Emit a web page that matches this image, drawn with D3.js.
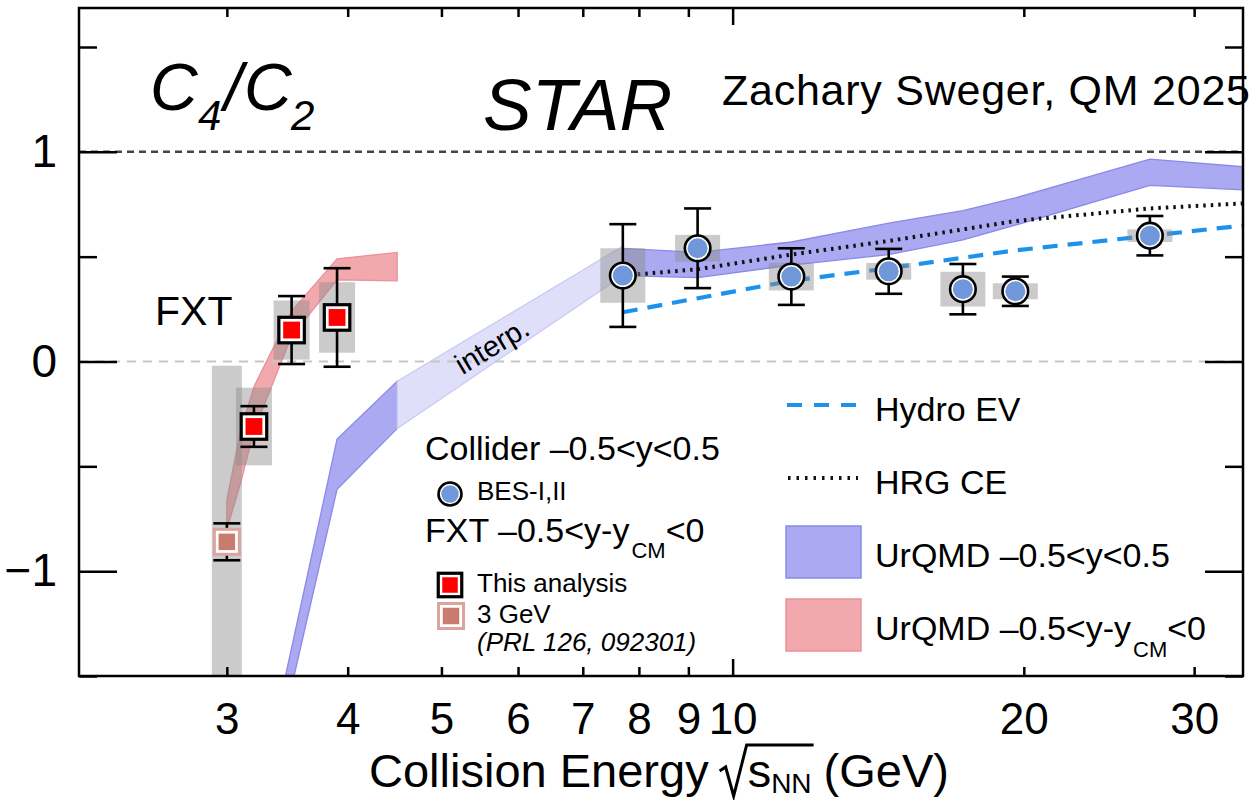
<!DOCTYPE html>
<html><head><meta charset="utf-8">
<script src="https://cdn.jsdelivr.net/npm/d3@7"></script>
<style>
body{margin:0;background:#fff}
svg{display:block}
text{font-family:"Liberation Sans",Arial,Helvetica,sans-serif;fill:#000}
</style>
</head><body>
<svg id="c" width="1254" height="800"></svg>
<script>
// ---------------- data ----------------
const besEnergy = [7.7, 9.2, 11.5, 14.5, 17.3, 19.6, 27];
const besValue  = [0.41, 0.54, 0.405, 0.43, 0.345, 0.335, 0.60];
const besStat   = [0.245, 0.19, 0.135, 0.107, 0.12, 0.07, 0.094];
const besSys    = [0.13, 0.064, 0.066, 0.04, 0.083, 0.038, 0.03];

const fxtEnergy = [3.2, 3.5, 3.9];
const fxtValue  = [-0.31, 0.15, 0.21];
const fxtStat   = [0.097, 0.162, 0.235];
const fxtSys    = [0.185, 0.141, 0.168];

const gev3Energy = [3.0];
const gev3Value  = [-0.86];
const gev3Stat   = [0.088];
const gev3Sys    = [0.84];

const hydroEnergy = [7.7, 11.5, 14.5, 19.6, 27, 39];
const hydroValue  = [0.235, 0.385, 0.445, 0.53, 0.60, 0.68];

const hrgEnergy = [7.7, 9.2, 11.5, 14.5, 17.3, 19.6, 27, 39];
const hrgValue  = [0.41, 0.44, 0.51, 0.575, 0.63, 0.67, 0.73, 0.77];

const urqmdLowEnergy = [3.2, 3.9, 4.5];
const urqmdLowLo     = [-2.33, -0.61, -0.32];
const urqmdLowHi     = [-2.19, -0.37, -0.094];

const urqmdInterpEnergy = [4.5, 7.7];
const urqmdInterpLo     = [-0.32, 0.41];
const urqmdInterpHi     = [-0.094, 0.55];

const urqmdBesEnergy = [7.7, 9.2, 11.5, 14.5, 17.3, 19.6, 27, 39];
const urqmdBesLo     = [0.41, 0.40, 0.46, 0.51, 0.58, 0.65, 0.84, 0.805];
const urqmdBesHi     = [0.54, 0.52, 0.57, 0.66, 0.72, 0.78, 0.965, 0.905];

const urqmdFxtEnergy = [3.0, 3.1, 3.2, 3.5, 3.9, 4.5];
const urqmdFxtLo     = [-0.80, -0.58, -0.33, 0.12, 0.39, 0.385];
const urqmdFxtHi     = [-0.66, -0.33, -0.12, 0.24, 0.49, 0.52];

const refLineValues = [1, 0];
const xTicks = [3, 4, 5, 6, 7, 8, 9, 10, 20, 30];
const xMajorTicks = [10];
const yTicks = [-1.5, -1, -0.5, 0, 0.5, 1, 1.5];
const yMajorTicks = [-1, 0, 1];

// ---------------- layout ----------------
const svg = d3.select("#c");
const X0 = 79, X1 = 1243, Y0 = 8, Y1 = 676;
const x = d3.scaleLog().domain([2.11, 33.7]).range([X0, X1]);
const y = d3.scaleLinear().domain([-1.5, 1.686]).range([Y1, Y0]);

svg.append("defs").append("clipPath").attr("id", "clip")
  .append("rect").attr("x", X0).attr("y", Y0).attr("width", X1 - X0).attr("height", Y1 - Y0);
const plot = svg.append("g").attr("clip-path", "url(#clip)");

const zip3 = (e, lo, hi) => e.map((v, i) => ({e: v, lo: lo[i], hi: hi[i]}));
const zip2 = (e, v) => e.map((d, i) => ({e: d, v: v[i]}));
const area = d3.area().x(d => x(d.e)).y0(d => y(d.lo)).y1(d => y(d.hi));
const line = d3.line().x(d => x(d.e)).y(d => y(d.v));

// bands
const bands = [
  {data: zip3(urqmdFxtEnergy, urqmdFxtLo, urqmdFxtHi), fill: "#f2a9ad", stroke: "#e8939b"},
  {data: zip3(urqmdLowEnergy, urqmdLowLo, urqmdLowHi), fill: "#aaa9f1", stroke: "#8c8ae8"},
  {data: zip3(urqmdInterpEnergy, urqmdInterpLo, urqmdInterpHi), fill: "#dfdff9", stroke: "#cacaf3"},
  {data: zip3(urqmdBesEnergy, urqmdBesLo, urqmdBesHi), fill: "#aaa9f1", stroke: "#8c8ae8"}
];
plot.selectAll("path.band").data(bands).join("path").attr("class", "band")
  .attr("d", d => area(d.data)).attr("fill", d => d.fill)
  .attr("stroke", d => d.stroke).attr("stroke-width", 1.3);

// reference dashed lines
plot.selectAll("line.ref").data(refLineValues).join("line").attr("class", "ref")
  .attr("x1", X0).attr("x2", X1).attr("y1", d => y(d)).attr("y2", d => y(d))
  .attr("stroke", d => d === 0 ? "#c6c6c6" : "#444")
  .attr("stroke-width", d => d === 0 ? 2.2 : 2.5).attr("stroke-dasharray", d => d === 0 ? "9,7" : "7,5");

// model lines
plot.append("path").attr("d", line(zip2(hrgEnergy, hrgValue)))
  .attr("fill", "none").attr("stroke", "#111").attr("stroke-width", 4).attr("stroke-dasharray", "2.5,5");
plot.append("path").attr("d", line(zip2(hydroEnergy, hydroValue)))
  .attr("fill", "none").attr("stroke", "#1e92ea").attr("stroke-width", 4.2).attr("stroke-dasharray", "15,10");

// data helpers
function points(E, V, S, Y) { return E.map((e, i) => ({e, v: V[i], stat: S[i], sys: Y[i]})); }
const besPts = points(besEnergy, besValue, besStat, besSys);
const fxtPts = points(fxtEnergy, fxtValue, fxtStat, fxtSys);
const gevPts = points(gev3Energy, gev3Value, gev3Stat, gev3Sys);

function sysBoxes(pts, halfW) {
  plot.append("g").selectAll("rect").data(pts).join("rect")
    .attr("x", d => x(d.e) - halfW).attr("width", 2 * halfW)
    .attr("y", d => y(d.v + d.sys)).attr("height", d => y(d.v - d.sys) - y(d.v + d.sys))
    .attr("fill", "#8c8c8c").attr("fill-opacity", 0.45);
}
sysBoxes(gevPts, 15);
sysBoxes(fxtPts, 18);
sysBoxes(besPts, 22.5);

function errBars(pts) {
  const g = plot.append("g").attr("stroke", "#000").attr("stroke-width", 2.6);
  const gg = g.selectAll("g").data(pts).join("g");
  gg.append("line").attr("x1", d => x(d.e)).attr("x2", d => x(d.e))
    .attr("y1", d => y(d.v + d.stat)).attr("y2", d => y(d.v - d.stat));
  gg.append("line").attr("x1", d => x(d.e) - 13.5).attr("x2", d => x(d.e) + 13.5)
    .attr("y1", d => y(d.v + d.stat)).attr("y2", d => y(d.v + d.stat));
  gg.append("line").attr("x1", d => x(d.e) - 13.5).attr("x2", d => x(d.e) + 13.5)
    .attr("y1", d => y(d.v - d.stat)).attr("y2", d => y(d.v - d.stat));
}
errBars(gevPts); errBars(fxtPts); errBars(besPts);

// marker drawers
function circleMarker(g, cx, cy, r) {
  g.append("circle").attr("cx", cx).attr("cy", cy).attr("r", r).attr("fill", "#fff").attr("stroke", "#000").attr("stroke-width", 2.6);
  g.append("circle").attr("cx", cx).attr("cy", cy).attr("r", r - 2.8).attr("fill", "#6f97da");
}
function squareMarker(g, cx, cy, s, outer, inner, sw) {
  g.append("rect").attr("x", cx - s / 2).attr("y", cy - s / 2).attr("width", s).attr("height", s)
    .attr("fill", "#fff").attr("stroke", outer).attr("stroke-width", sw);
  const si = s * 0.66;
  g.append("rect").attr("x", cx - si / 2).attr("y", cy - si / 2).attr("width", si).attr("height", si).attr("fill", inner);
}
const mk = plot.append("g");
gevPts.forEach(d => squareMarker(mk, x(d.e), y(d.v), 25, "#dba49d", "#c97b70", 3));
fxtPts.forEach(d => squareMarker(mk, x(d.e), y(d.v), 25.5, "#000", "#ff0000", 3.2));
besPts.forEach(d => circleMarker(mk, x(d.e), y(d.v), 12.8));

// ---------------- axes ----------------
const axW = 2.5;
function styleAxis(g) {
  g.select(".domain").remove();
  g.selectAll(".tick line").attr("stroke", "#000").attr("stroke-width", axW);
}
const gB = svg.append("g").attr("transform", `translate(0,${Y1})`)
  .call(d3.axisBottom(x).tickValues(xTicks).tickSize(-9).tickSizeOuter(0).tickPadding(27).tickFormat(d3.format("d")));
styleAxis(gB);
gB.selectAll(".tick").filter(d => xMajorTicks.includes(d)).select("line").attr("y2", -17);
gB.selectAll(".tick text").attr("font-size", 44).attr("font-family", null).attr("fill", "#000");

const gT = svg.append("g").attr("transform", `translate(0,${Y0})`)
  .call(d3.axisTop(x).tickValues(xTicks).tickSize(-9).tickSizeOuter(0).tickFormat(""));
styleAxis(gT);
gT.selectAll(".tick").filter(d => xMajorTicks.includes(d)).select("line").attr("y2", 17);

const yFmt = d => yMajorTicks.includes(d) ? (d < 0 ? "\u2212" + Math.abs(d) : String(d)) : "";
const gL = svg.append("g").attr("transform", `translate(${X0},0)`)
  .call(d3.axisLeft(y).tickValues(yTicks).tickSize(-18).tickSizeOuter(0).tickPadding(22).tickFormat(yFmt));
styleAxis(gL);
gL.selectAll(".tick").filter(d => yMajorTicks.includes(d)).select("line").attr("x2", 38);
gL.selectAll(".tick text").attr("font-size", 46).attr("font-family", null).attr("fill", "#000");

const gR = svg.append("g").attr("transform", `translate(${X1},0)`)
  .call(d3.axisRight(y).tickValues(yTicks).tickSize(-18).tickSizeOuter(0).tickFormat(""));
styleAxis(gR);
gR.selectAll(".tick").filter(d => yMajorTicks.includes(d)).select("line").attr("x2", -38);

svg.append("rect").attr("x", X0).attr("y", Y0).attr("width", X1 - X0).attr("height", Y1 - Y0)
  .attr("fill", "none").attr("stroke", "#000").attr("stroke-width", axW);

// x axis title
(function () {
  const g = svg.append("g");
  const base = 787, fs = 47;
  const t1 = g.append("text").attr("font-size", fs).attr("y", base).text("Collision Energy");
  const w1 = t1.node().getComputedTextLength();
  const radW = 27;
  const t2 = g.append("text").attr("font-size", fs).attr("y", base).text("s");
  const w2 = t2.node().getComputedTextLength();
  const t3 = g.append("text").attr("font-size", 28).attr("y", base + 6).text("NN");
  const w3 = t3.node().getComputedTextLength();
  const t4 = g.append("text").attr("font-size", fs).attr("y", base).text("(GeV)");
  const w4 = t4.node().getComputedTextLength();
  const gap1 = 11, gap2 = 1, gap3 = 12;
  const total = w1 + gap1 + radW + gap2 + w2 + w3 + gap3 + w4;
  let cx = 659 - total / 2;
  t1.attr("x", cx); cx += w1 + gap1;
  const rx = cx; cx += radW + gap2;
  t2.attr("x", cx); cx += w2;
  t3.attr("x", cx); cx += w3;
  const overEnd = cx + 2; cx += gap3;
  t4.attr("x", cx);
  g.append("path")
    .attr("d", `M${rx},${base - 16} L${rx + 6},${base - 20} L${rx + 14},${base + 9} L${rx + radW},${base - 42} L${overEnd},${base - 42}`)
    .attr("fill", "none").attr("stroke", "#000").attr("stroke-width", 3).attr("stroke-linejoin", "miter");
})();

// ---------------- texts ----------------
const T = svg.append("g");
// C4/C2
const ct = T.append("text").attr("font-style", "italic");
ct.append("tspan").attr("x", 150).attr("y", 110).attr("font-size", 66).text("C");
ct.append("tspan").attr("x", 198).attr("y", 130).attr("font-size", 42).text("4");
ct.append("tspan").attr("x", 224).attr("y", 110).attr("font-size", 66).text("/");
ct.append("tspan").attr("x", 244).attr("y", 110).attr("font-size", 66).text("C");
ct.append("tspan").attr("x", 291).attr("y", 130).attr("font-size", 42).text("2");

T.append("text").attr("x", 483).attr("y", 130).attr("font-size", 73).attr("font-style", "italic").text("STAR");
T.append("text").attr("x", 722).attr("y", 105).attr("font-size", 43)
  .attr("textLength", 528).attr("lengthAdjust", "spacing").text("Zachary Sweger, QM 2025");
T.append("text").attr("x", 155).attr("y", 325).attr("font-size", 41).text("FXT");

// interp label on band
const ie = Math.sqrt(urqmdInterpEnergy[0] * urqmdInterpEnergy[1]);
T.append("text").attr("transform", `translate(${x(ie) - 13},${y((urqmdInterpLo[0] + urqmdInterpHi[1]) / 2) + 17}) rotate(-31)`)
  .attr("text-anchor", "middle").attr("font-size", 29).text("interp.");

// middle legend
T.append("text").attr("x", 425).attr("y", 460).attr("font-size", 34).text("Collider \u20130.5<y<0.5");
circleMarker(T, 450, 494, 11.5);
T.append("text").attr("x", 477).attr("y", 500).attr("font-size", 26).text("BES-I,II");
const fx = T.append("text").attr("x", 425).attr("y", 542).attr("font-size", 34);
fx.append("tspan").text("FXT \u20130.5<y-y");
fx.append("tspan").attr("font-size", 22).attr("dx", 2).attr("dy", 16).text("CM");
fx.append("tspan").attr("dy", -16).text("<0");
squareMarker(T, 450, 585, 23.5, "#000", "#ff0000", 3.2);
T.append("text").attr("x", 477).attr("y", 592).attr("font-size", 26).text("This analysis");
squareMarker(T, 451, 616, 25, "#dba49d", "#c97b70", 3);
T.append("text").attr("x", 477).attr("y", 623).attr("font-size", 26).text("3 GeV");
T.append("text").attr("x", 477).attr("y", 651).attr("font-size", 26).attr("font-style", "italic").text("(PRL 126, 092301)");

// right legend
T.append("line").attr("x1", 787).attr("x2", 857).attr("y1", 405).attr("y2", 405)
  .attr("stroke", "#1e92ea").attr("stroke-width", 4.2).attr("stroke-dasharray", "15,12");
T.append("text").attr("x", 875).attr("y", 421).attr("font-size", 34).text("Hydro EV");
T.append("line").attr("x1", 788).attr("x2", 858).attr("y1", 478).attr("y2", 478)
  .attr("stroke", "#111").attr("stroke-width", 4).attr("stroke-dasharray", "2.5,6");
T.append("text").attr("x", 875).attr("y", 494).attr("font-size", 34).text("HRG CE");
T.append("rect").attr("x", 786).attr("y", 526).attr("width", 75).attr("height", 52)
  .attr("fill", "#aaa9f1").attr("stroke", "#8c8ae8").attr("stroke-width", 1.5);
T.append("text").attr("x", 875).attr("y", 567).attr("font-size", 34).text("UrQMD \u20130.5<y<0.5");
T.append("rect").attr("x", 786).attr("y", 599).attr("width", 75).attr("height", 52)
  .attr("fill", "#f2a9ad").attr("stroke", "#e8939b").attr("stroke-width", 1.5);
const ur = T.append("text").attr("x", 875).attr("y", 640).attr("font-size", 34);
ur.append("tspan").text("UrQMD \u20130.5<y-y");
ur.append("tspan").attr("font-size", 22).attr("dx", 2).attr("dy", 17).text("CM");
ur.append("tspan").attr("dy", -17).text("<0");
</script>
</body></html>
